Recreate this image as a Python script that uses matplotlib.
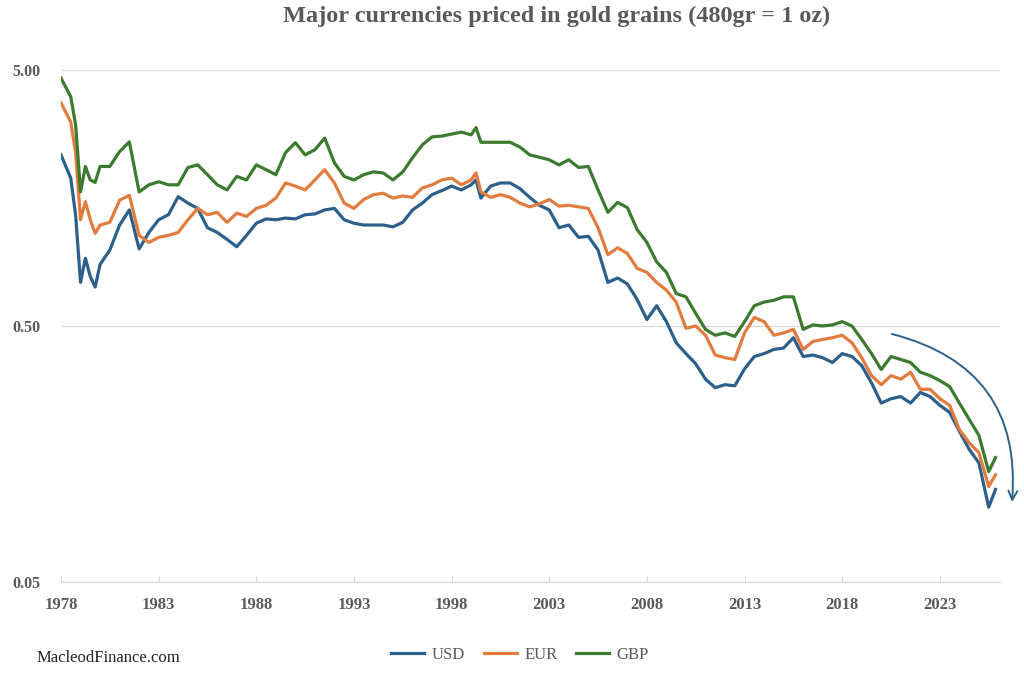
import matplotlib
matplotlib.use("Agg")
import matplotlib.pyplot as plt
from matplotlib.ticker import FixedLocator, NullLocator

# decimal years (half-yearly, a few extra points around sharp moves)
years = [
    1978.0, 1978.5, 1978.75, 1979.0, 1979.25, 1979.5, 1979.75, 1980.0, 1980.5,
    1981.0, 1981.5, 1982.0, 1982.5, 1983.0, 1983.5, 1984.0, 1984.5, 1985.0, 1985.5,
    1986.0, 1986.5, 1987.0, 1987.5, 1988.0, 1988.5, 1989.0, 1989.5, 1990.0, 1990.5,
    1991.0, 1991.5, 1992.0, 1992.5, 1993.0, 1993.5, 1994.0, 1994.5, 1995.0, 1995.5,
    1996.0, 1996.5, 1997.0, 1997.5, 1998.0, 1998.5, 1999.0, 1999.25, 1999.5,
    2000.0, 2000.5, 2001.0, 2001.5, 2002.0, 2002.5, 2003.0, 2003.5, 2004.0, 2004.5,
    2005.0, 2005.5, 2006.0, 2006.5, 2007.0, 2007.5, 2008.0, 2008.5, 2009.0, 2009.5,
    2010.0, 2010.5, 2011.0, 2011.5, 2012.0, 2012.5, 2013.0, 2013.5, 2014.0, 2014.5,
    2015.0, 2015.5, 2016.0, 2016.5, 2017.0, 2017.5, 2018.0, 2018.5, 2019.0, 2019.5,
    2020.0, 2020.5, 2021.0, 2021.5, 2022.0, 2022.5, 2023.0, 2023.5, 2024.0, 2024.5,
    2025.0, 2025.5, 2025.85,
]

usd = [
    2.33, 1.89, 1.35, 0.74, 0.92, 0.78, 0.71, 0.87, 0.99,
    1.24, 1.42, 1.00, 1.16, 1.30, 1.36, 1.60, 1.51, 1.44, 1.21,
    1.16, 1.09, 1.02, 1.13, 1.26, 1.31, 1.30, 1.32, 1.31, 1.36,
    1.37, 1.42, 1.44, 1.30, 1.26, 1.24, 1.24, 1.24, 1.22, 1.27,
    1.42, 1.51, 1.63, 1.69, 1.76, 1.70, 1.78, 1.86, 1.58,
    1.76, 1.81, 1.81, 1.72, 1.59, 1.48, 1.42, 1.21, 1.24, 1.11,
    1.12, 0.99, 0.74, 0.77, 0.73, 0.635, 0.53, 0.60, 0.52, 0.43,
    0.39, 0.356, 0.31, 0.287, 0.295, 0.292, 0.34, 0.38, 0.39, 0.405,
    0.41, 0.45, 0.38, 0.385, 0.376, 0.36, 0.39, 0.38, 0.35, 0.30,
    0.25, 0.26, 0.265, 0.25, 0.275, 0.265, 0.245, 0.23, 0.194, 0.165,
    0.146, 0.098, 0.115,
]

eur = [
    3.72, 3.13, 2.37, 1.30, 1.53, 1.30, 1.15, 1.24, 1.27,
    1.55, 1.62, 1.13, 1.06, 1.11, 1.13, 1.16, 1.30, 1.44, 1.36,
    1.39, 1.27, 1.38, 1.34, 1.44, 1.48, 1.58, 1.81, 1.76, 1.70,
    1.86, 2.04, 1.81, 1.51, 1.44, 1.56, 1.63, 1.65, 1.58, 1.61,
    1.59, 1.73, 1.78, 1.86, 1.89, 1.78, 1.86, 1.98, 1.67,
    1.59, 1.63, 1.59, 1.51, 1.46, 1.50, 1.56, 1.47, 1.48, 1.46,
    1.44, 1.21, 0.95, 1.01, 0.96, 0.84, 0.81, 0.74, 0.69, 0.62,
    0.49, 0.50, 0.46, 0.385, 0.376, 0.37, 0.47, 0.54, 0.52, 0.46,
    0.47, 0.485, 0.405, 0.435, 0.443, 0.45, 0.46, 0.43, 0.376, 0.32,
    0.295, 0.32, 0.31, 0.33, 0.283, 0.283, 0.26, 0.245, 0.197, 0.175,
    0.16, 0.118, 0.131,
]

gbp = [
    4.65, 3.93, 3.05, 1.67, 2.10, 1.86, 1.82, 2.10, 2.10,
    2.40, 2.62, 1.67, 1.78, 1.83, 1.78, 1.78, 2.08, 2.13, 1.95,
    1.78, 1.70, 1.92, 1.86, 2.13, 2.04, 1.95, 2.38, 2.60, 2.33,
    2.44, 2.71, 2.17, 1.92, 1.86, 1.95, 2.00, 1.98, 1.86, 2.00,
    2.27, 2.55, 2.74, 2.76, 2.81, 2.86, 2.79, 2.98, 2.61,
    2.61, 2.61, 2.61, 2.50, 2.33, 2.28, 2.23, 2.13, 2.23, 2.08,
    2.10, 1.70, 1.39, 1.52, 1.45, 1.19, 1.06, 0.89, 0.81, 0.67,
    0.65, 0.56, 0.485, 0.46, 0.47, 0.455, 0.52, 0.60, 0.62, 0.63,
    0.65, 0.65, 0.485, 0.505, 0.50, 0.505, 0.52, 0.50, 0.443, 0.39,
    0.338, 0.38, 0.37, 0.36, 0.33, 0.32, 0.306, 0.29, 0.25, 0.216,
    0.187, 0.135, 0.153,
]

x_ticks = [1978, 1983, 1988, 1993, 1998, 2003, 2008, 2013, 2018, 2023]
y_ticks = [0.05, 0.5, 5.0]
y_tick_labels = ["0.05", "0.50", "5.00"]

plt.rcParams['font.family'] = ['Liberation Serif', 'DejaVu Serif']

text_grey = '#595959'
colors = {'USD': '#2d5f8b', 'EUR': '#e27c3e', 'GBP': '#3b7a2f'}

fig = plt.figure(figsize=(10.24, 6.75), dpi=100)
ax = fig.add_axes([61 / 1024, 1 - 582 / 675, 939 / 1024, 512 / 675])

ax.plot(years, usd, color=colors['USD'], linewidth=2.3, label='USD', solid_joinstyle='round')
ax.plot(years, eur, color=colors['EUR'], linewidth=2.3, label='EUR', solid_joinstyle='round')
ax.plot(years, gbp, color=colors['GBP'], linewidth=2.3, label='GBP', solid_joinstyle='round')

ax.set_yscale('log')
ax.set_ylim(0.05, 5.0)
ax.set_xlim(1978, 2026.08)
ax.yaxis.set_major_locator(FixedLocator(y_ticks))
ax.yaxis.set_minor_locator(NullLocator())
ax.set_yticklabels(y_tick_labels)
ax.set_xticks(x_ticks)
ax.set_xticklabels([str(y) for y in x_ticks])

ax.grid(axis='y', color='#d9d9d9', linewidth=0.9)
ax.set_axisbelow(True)
for side in ['left', 'right', 'top']:
    ax.spines[side].set_visible(False)
ax.spines['bottom'].set_color('#d9d9d9')
ax.spines['bottom'].set_linewidth(0.9)

ax.tick_params(axis='y', length=0, pad=15, labelsize=11.5, labelcolor=text_grey)
ax.tick_params(axis='x', direction='in', length=4, color='#d9d9d9',
               pad=11, labelsize=12, labelcolor=text_grey)
for lab in ax.get_xticklabels() + ax.get_yticklabels():
    lab.set_fontweight('bold')

# curved arrow pointing down at the end of the series
ax.annotate('', xy=(1012, 675 - 502), xycoords='figure pixels',
            xytext=(892, 675 - 334), textcoords='figure pixels',
            arrowprops=dict(arrowstyle='->', color=colors['USD'], linewidth=1.4,
                            connectionstyle='arc3,rad=-0.42',
                            mutation_scale=16, shrinkA=0, shrinkB=0),
            annotation_clip=False)

fig.text(557 / 1024, 1 - 16 / 675, 'Major currencies priced in gold grains (480gr = 1 oz)',
         ha='center', va='center', fontsize=17.5, fontweight='bold', color=text_grey)

fig.legend(loc='center', bbox_to_anchor=(520 / 1024, 1 - 655 / 675), ncol=3,
           frameon=False, handlelength=2.0, columnspacing=1.1, handletextpad=0.45,
           prop={'size': 12}, labelcolor=text_grey)

fig.text(37 / 1024, 1 - 658 / 675, 'MacleodFinance.com', ha='left', va='center',
         fontsize=12, color='#222222')

fig.savefig('out.png', dpi=100)
